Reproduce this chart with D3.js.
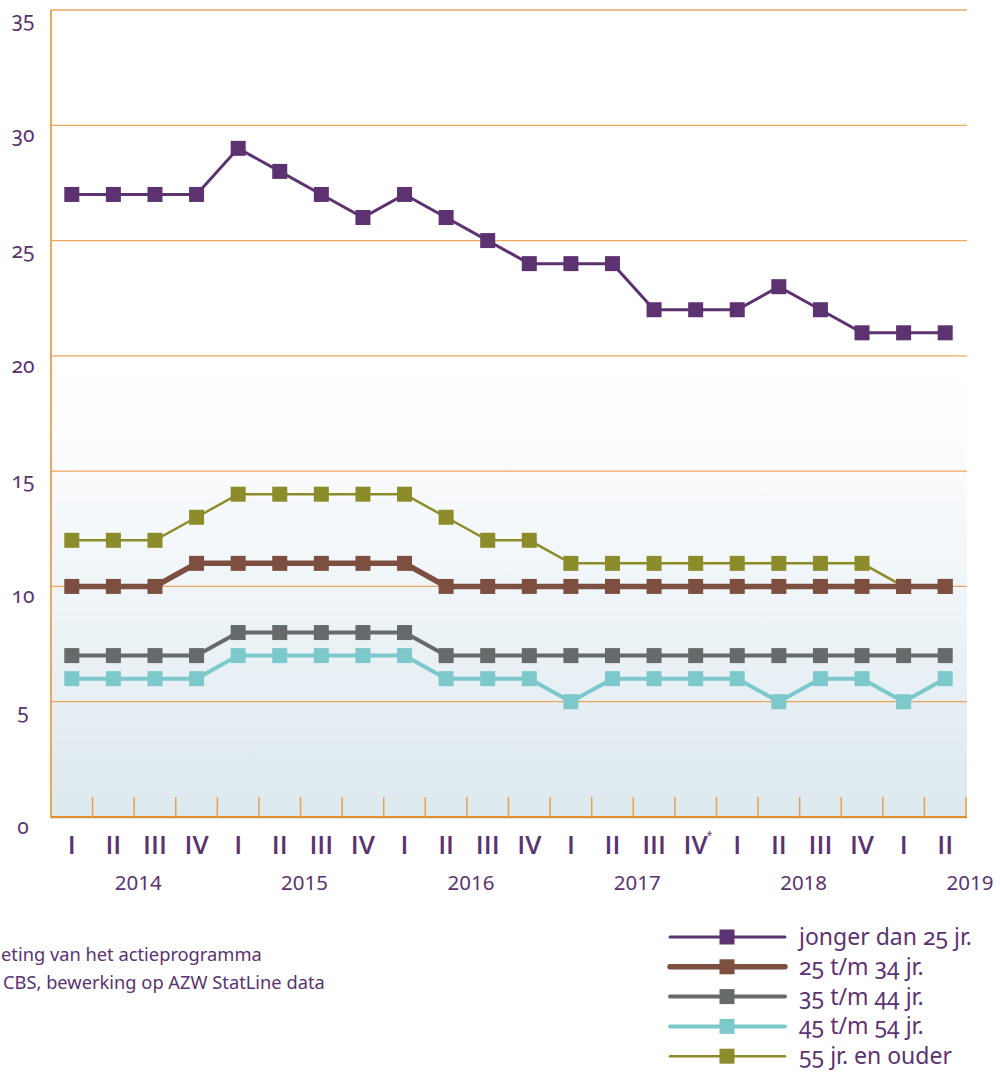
<!DOCTYPE html>
<html>
<head>
<meta charset="utf-8">
<script src="https://cdn.jsdelivr.net/npm/d3@7"></script>
<style>
  body { margin: 0; background: #fff; }
  svg text { font-family: "Noto Sans", "Open Sans", sans-serif; fill: #5b3370; }
  svg text.roman { font-family: "Open Sans", "Liberation Sans", sans-serif; font-weight: 600; }
  .onum { font-feature-settings: "onum" 1; font-variant-numeric: oldstyle-nums; }
</style>
</head>
<body>
<svg id="chart" width="1000" height="1072"></svg>
<script>
// quarters 2014 Q1 .. 2019 Q2
const quarters = ["I", "II", "III", "IV", "I", "II", "III", "IV", "I", "II", "III", "IV",
                  "I", "II", "III", "IV", "I", "II", "III", "IV", "I", "II"];
const years = ["2014", "2015", "2016", "2017", "2018", "2019"];
const yTicks = [0, 5, 10, 15, 20, 25, 30, 35];

const under25 = [27, 27, 27, 27, 29, 28, 27, 26, 27, 26, 25, 24, 24, 24, 22, 22, 22, 23, 22, 21, 21, 21];
const age25to34 = [10, 10, 10, 11, 11, 11, 11, 11, 11, 10, 10, 10, 10, 10, 10, 10, 10, 10, 10, 10, 10, 10];
const age35to44 = [7, 7, 7, 7, 8, 8, 8, 8, 8, 7, 7, 7, 7, 7, 7, 7, 7, 7, 7, 7, 7, 7];
const age45to54 = [6, 6, 6, 6, 7, 7, 7, 7, 7, 6, 6, 6, 5, 6, 6, 6, 6, 5, 6, 6, 5, 6];
const age55plus = [12, 12, 12, 13, 14, 14, 14, 14, 14, 13, 12, 12, 11, 11, 11, 11, 11, 11, 11, 11, 10, 10];

const seriesNames = ["jonger dan 25 jr.", "25 t/m 34 jr.", "35 t/m 44 jr.", "45 t/m 54 jr.", "55 jr. en ouder"];
const seriesValues = [under25, age25to34, age35to44, age45to54, age55plus];
const seriesColors = ["#5c3370", "#7d4f40", "#676a6b", "#7cc8cb", "#8c8c2a"];
const seriesWidths = [3, 5.5, 4, 4, 2.5];

const svg = d3.select("#chart");
const plotLeft = 51, plotRight = 966, plotTop = 10, plotBottom = 817;

const x = d3.scaleBand().domain(d3.range(quarters.length)).range([plotLeft, plotRight]);
const y = d3.scaleLinear().domain([0, 35]).range([plotBottom, plotTop]);
const bw = x.bandwidth();

// background gradient
const defs = svg.append("defs");
const grad = defs.append("linearGradient")
    .attr("id", "bg")
    .attr("x1", 0).attr("y1", 0).attr("x2", 0).attr("y2", 1);
grad.append("stop").attr("offset", "0").attr("stop-color", "#ffffff");
grad.append("stop").attr("offset", "0.2").attr("stop-color", "#fbfcfd");
grad.append("stop").attr("offset", "1").attr("stop-color", "#dce9ef");

svg.append("rect")
    .attr("x", plotLeft)
    .attr("y", y(20))
    .attr("width", plotRight - plotLeft + 1)
    .attr("height", plotBottom - y(20) + 2)
    .attr("fill", "url(#bg)");

// gridlines
svg.selectAll(".grid")
    .data(yTicks.filter(d => d > 0))
    .enter().append("line")
    .attr("class", "grid")
    .attr("x1", plotLeft).attr("x2", plotRight + 1)
    .attr("y1", d => y(d)).attr("y2", d => y(d))
    .attr("stroke", "#eba85c")
    .attr("stroke-width", 1.3);

// axes lines
svg.append("line")
    .attr("x1", plotLeft).attr("x2", plotLeft)
    .attr("y1", plotTop).attr("y2", plotBottom + 1)
    .attr("stroke", "#eba85c").attr("stroke-width", 2);
svg.append("line")
    .attr("x1", plotLeft).attr("x2", plotRight + 1)
    .attr("y1", plotBottom).attr("y2", plotBottom)
    .attr("stroke", "#e48f2e").attr("stroke-width", 2);

// tick marks at band boundaries
svg.selectAll(".tick")
    .data(d3.range(1, quarters.length + 1))
    .enter().append("line")
    .attr("x1", d => plotLeft + d * bw).attr("x2", d => plotLeft + d * bw)
    .attr("y1", plotBottom - 20).attr("y2", plotBottom)
    .attr("stroke", "#e8a04a").attr("stroke-width", 1.5);

// y labels
svg.selectAll(".ylab")
    .data(yTicks)
    .enter().append("text")
    .attr("class", "onum")
    .attr("x", 23)
    .attr("y", d => y(d) + 17)
    .attr("text-anchor", "middle")
    .style("font-size", "21px")
    .text(d => d);

// quarter labels
svg.selectAll(".qlab")
    .data(quarters)
    .enter().append("text")
    .attr("class", "roman")
    .attr("x", (d, i) => x(i) + bw / 2)
    .attr("y", 854)
    .attr("text-anchor", "middle")
    .style("font-size", "26px")
    .text(d => d);

// asterisk on 2017 IV
svg.append("text")
    .attr("x", x(15) + bw / 2 + 11)
    .attr("y", 839)
    .style("font-size", "10px")
    .text("*");

// year labels
svg.selectAll(".yearlab")
    .data(years)
    .enter().append("text")
    .attr("x", (d, i) => plotLeft + (i * 4 + 2) * bw + 4)
    .attr("y", 890)
    .attr("text-anchor", "middle")
    .style("font-size", "20.5px")
    .text(d => d);

// series, drawn back to front
const drawOrder = [4, 3, 2, 1, 0];
const ms = 15;
drawOrder.forEach(si => {
    const vals = seriesValues[si];
    const line = d3.line()
        .x((d, i) => x(i) + bw / 2)
        .y(d => y(d));
    svg.append("path")
        .datum(vals)
        .attr("d", line)
        .attr("fill", "none")
        .attr("stroke", seriesColors[si])
        .attr("stroke-width", seriesWidths[si]);
    svg.selectAll(".pt" + si)
        .data(vals)
        .enter().append("rect")
        .attr("x", (d, i) => x(i) + bw / 2 - ms / 2)
        .attr("y", d => y(d) - ms / 2)
        .attr("width", ms).attr("height", ms)
        .attr("fill", seriesColors[si]);
});

// footnote (cut at left edge)
svg.append("text")
    .attr("x", 1).attr("y", 961)
    .style("font-size", "18.3px")
    .text("eting van het actieprogramma");
svg.append("text")
    .attr("x", 3).attr("y", 989)
    .style("font-size", "18.3px")
    .text("CBS, bewerking op AZW StatLine data");

// legend
const legend = svg.append("g").attr("transform", "translate(668,937)");
seriesNames.forEach((name, i) => {
    const row = legend.append("g").attr("transform", `translate(0,${i * 29.8})`);
    row.append("line")
        .attr("x1", 2).attr("x2", 117)
        .attr("y1", 0).attr("y2", 0)
        .attr("stroke", seriesColors[i])
        .attr("stroke-width", seriesWidths[i])
        .attr("stroke-linecap", "round");
    row.append("rect")
        .attr("x", 59 - ms / 2).attr("y", -ms / 2)
        .attr("width", ms).attr("height", ms)
        .attr("fill", seriesColors[i]);
    row.append("text")
        .attr("class", "onum")
        .attr("x", 131).attr("y", 8)
        .style("font-size", "23px")
        .text(name);
});
</script>
</body>
</html>
